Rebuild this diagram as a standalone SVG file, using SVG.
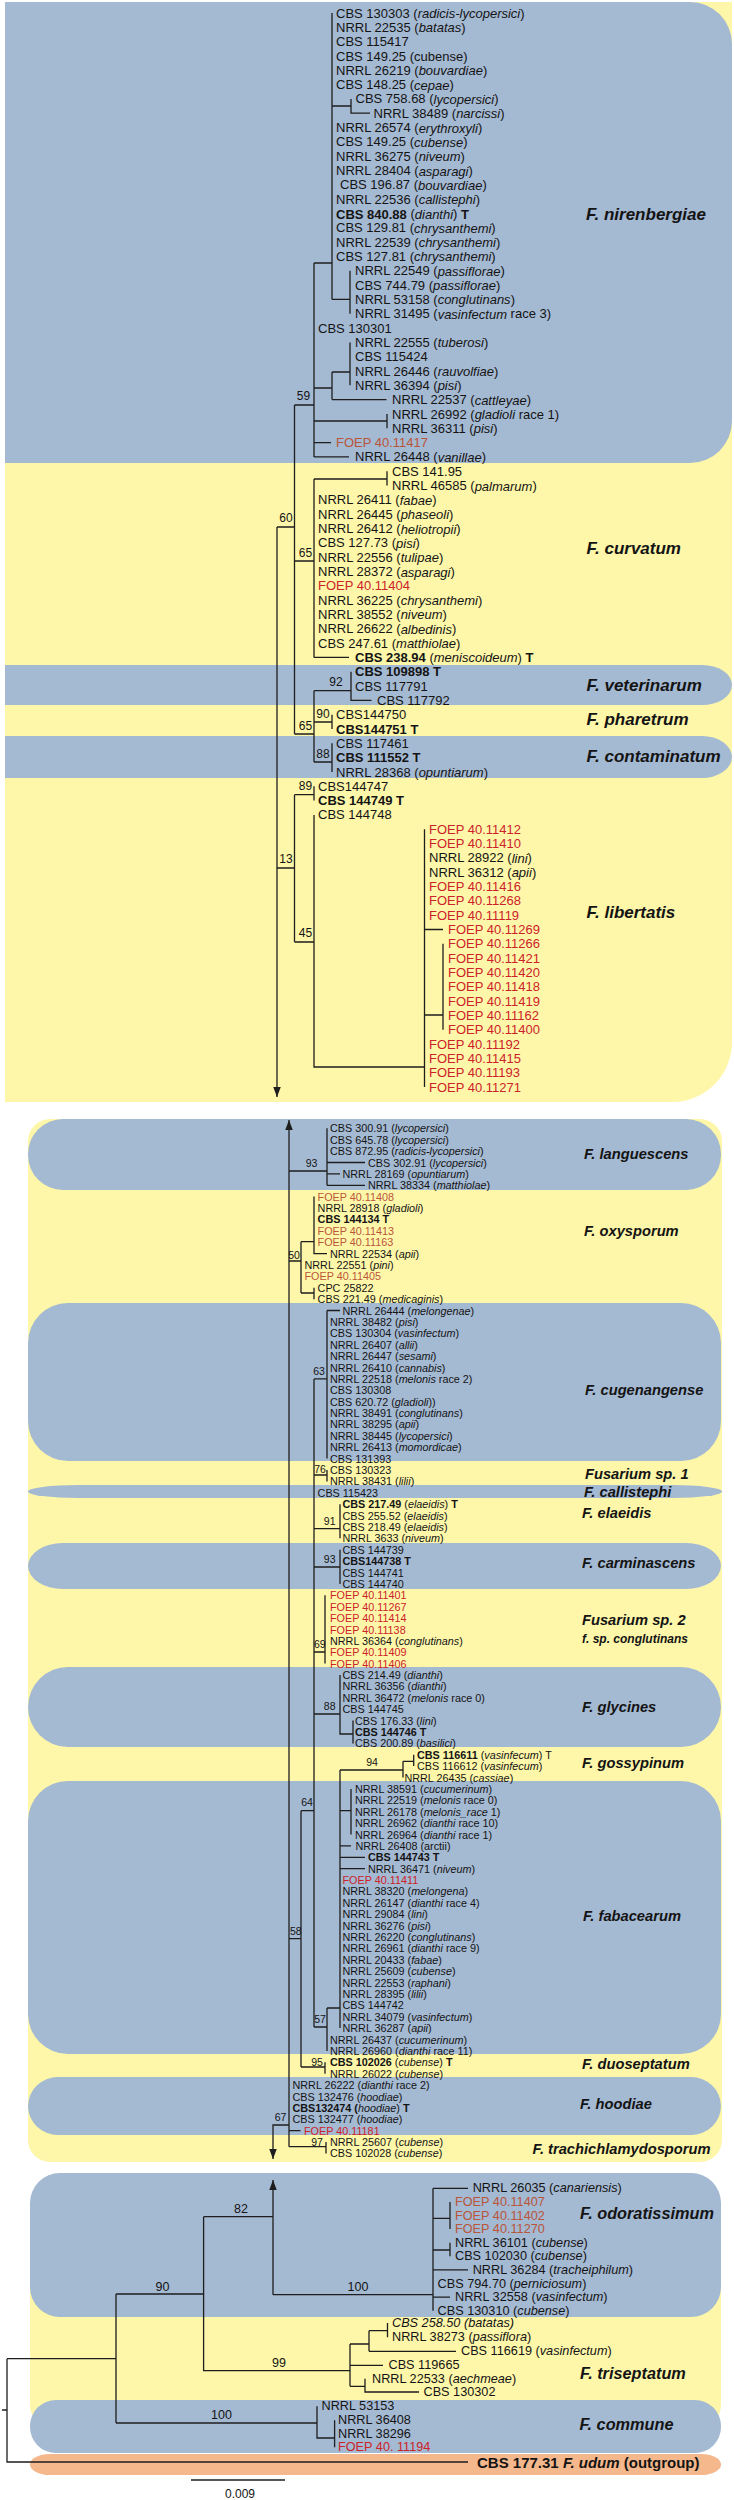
<svg xmlns="http://www.w3.org/2000/svg" width="734" height="2500" viewBox="0 0 734 2500">
<style>
.ln{stroke:#1e1e1e;stroke-width:1.3;fill:none}
.bl{fill:#a4b9d2}
.ye{fill:#fef7a9}
.og{fill:#f5b88c}
text{font-family:"Liberation Sans",Arial,sans-serif;fill:#141414;dominant-baseline:central}
.t text{font-size:13px}
.m text{font-size:10.8px}
.o text{font-size:12.7px}
.i{font-style:italic}
.b{font-weight:bold}
.r{fill:#cc2229}
.rb{fill:#b9553a}
.lab text{font-weight:bold;font-style:italic;font-size:17px}
.lab .ml{font-size:14.7px}
.lab .bt{font-size:16.3px}
.lab .sm{font-size:12px}
.sup text{text-anchor:middle}
.sup .s1{font-size:12px}
.sup .s2{font-size:10.5px}
.sup .s3{font-size:12.5px}
</style>
<defs>
<marker id="arr" markerUnits="userSpaceOnUse" markerWidth="11" markerHeight="8" refX="10" refY="3.75" orient="auto" viewBox="0 0 11 8"><path d="M0,0 L10,3.75 L0,7.5 Z" fill="#1e1e1e"/></marker>
</defs>
<g id="panels">
<path class="ye" d="M5,2 H732 V1042 A60,60 0 0 1 672,1102 H5 Z"/>
<path class="bl" d="M5,2 H690 A42,42 0 0 1 732,44 V421 A42,42 0 0 1 690,463 H5 Z"/>
<path class="bl" d="M5,665 H702 A30,20 0 0 1 702,705 H5 Z"/>
<path class="bl" d="M5,736 H702 A30,21 0 0 1 702,778 H5 Z"/>
<rect class="ye" x="28" y="1119" width="694" height="1043" rx="22"/>
<rect class="bl" x="28" y="1119" width="693" height="71" rx="35"/>
<rect class="bl" x="28" y="1303" width="693" height="158" rx="40"/>
<rect class="bl" x="28" y="1485" width="694" height="13" rx="50" ry="6.5"/>
<rect class="bl" x="28" y="1543" width="693" height="46" rx="35" ry="23"/>
<rect class="bl" x="28" y="1667" width="693" height="80" rx="40"/>
<rect class="bl" x="28" y="1781" width="693" height="273" rx="40"/>
<rect class="bl" x="28" y="2077" width="693" height="58" rx="30" ry="29"/>
<rect class="ye" x="30" y="2185" width="691" height="245" rx="25"/>
<rect class="bl" x="30" y="2173" width="691" height="144" rx="30"/>
<rect class="bl" x="30" y="2400" width="691" height="53" rx="26"/>
<rect class="og" x="30" y="2454" width="691" height="21" rx="20" ry="10.5"/>
</g>
<g id="connectors" class="ln">
<path d="M332,13 V299.4 M332,106 H351 M351,98.9 V113.2 H370 M332,299.4 H350 M350,270.8 V313.7 M314,263 H332 M314,263 V456.9"/>
<path d="M314,388 H332 M332,372 V399.6 M332,372 H350 M350,342.4 V385.3 M332,399.6 H386.5 M314,421 H387 M387,414 V428.3 M314,442.6 H331 M314,456.9 H349"/>
<path d="M294.5,405 H314 M294.5,405 V734 M277,527 H294.5"/>
<path d="M294.5,561 H314 M314,479 V657.4 M314,479 H387 M387,471.2 V485.6 M314,657.4 H349"/>
<path d="M294.5,734 H314 M314,690.7 V762 M314,690.7 H351 M351,671.7 V700.4 H371.5 M314,722 H332 M332,714.7 V729 M314,762 H332 M332,743.3 V772"/>
<path d="M277,527 V1097" marker-end="url(#arr)"/>
<path d="M277,868 H294.5 M294.5,794.7 V942 M294.5,794.7 H314 M314,786.3 V800.6 M294.5,942 H314 M314,814.9 V1067 H424.5"/>
<path d="M424.5,829.2 V1087 M424.5,929.5 H443 M424.5,1015 H443 M443,943.8 V1029.7"/>
<path d="M289,2146.7 V1120" marker-end="url(#arr)"/>
<path d="M289,1171 H327 M327,1128.3 V1185.3 M327,1162.5 H365 M327,1173.9 H340 M327,1185.3 H365"/>
<path d="M289,1261 H301 M301,1241.7 V1293 M301,1241.7 H314 M314,1196.6 V1253.6 H327 M301,1293 H314 M314,1287.8 V1299.2"/>
<path d="M289,1938.7 H301 M301,1810.7 V2067 M301,1810.7 H314 M301,2067 H325 M325,2062.3 V2073.7"/>
<path d="M314,1378.9 V2027 M314,1378.9 H327 M327,1310.5 V1458.6 M327,1310.5 H340 M314,1475 H327 M327,1470 V1481.4 M314,1528.7 H340 M340,1504.2 V1538.3 M314,1567 H340 M340,1549.7 V1583.9 M314,1652 H325 M325,1595.3 V1663.6"/>
<path d="M314,1714 H340 M340,1675 V1734 H353 M353,1720.6 V1743.4"/>
<path d="M314,2027 H327 M327,2008 V2050.9 M327,2008 H340"/>
<path d="M340,1770 V2028.1 M340,1770 H403 M403,1761.3 V1777.5 M403,1761.3 H413.7 M413.7,1754.8 V1766.1 M340,1810.7 H351 M351,1788.9 V1834.5 M340,1845.9 H351 M340,1857.3 H365 M340,1868.7 H365"/>
<path d="M289,2130.6 H300.5 M289,2146.7 H326 M326,2142 V2153.4"/>
<path d="M289,2125 H273 V2159" marker-end="url(#arr)"/>
<path d="M273,2294.7 V2180" marker-end="url(#arr)"/>
<path d="M203.6,2216.7 H273 M273,2294.7 H433 M433,2188.3 V2310.7 M433,2188.3 H468 M433,2218.3 H450 M450,2201.9 V2229.1 M433,2250 H450 M450,2242.7 V2256.3 M433,2269.9 H468 M433,2297.1 H450"/>
<path d="M116,2294 H203.6 M203.6,2216.7 V2370.7 H350 M350,2344 V2386.3 M350,2344 H369 M369,2330.7 V2351.3 M369,2330.7 H387.5 M387.5,2323 V2337.3 M369,2351.3 H456 M350,2365.3 H383 M350,2386.3 H365 M365,2378.7 V2392 H419"/>
<path d="M116,2423 H317 M317,2406.3 V2438 H334.6 M334.6,2420.3 V2447.3"/>
<path d="M116,2294 V2423 M7,2358.7 H116 M7,2358.7 V2462 H468 M2,2410 H7"/>
<path d="M191,2480 H285"/>
</g>
<g id="nirenbergiae" class="t">
<text x="336" y="13">CBS 130303 (<tspan class="i">radicis-lycopersici</tspan>)</text>
<text x="336" y="27.3">NRRL 22535 (<tspan class="i">batatas</tspan>)</text>
<text x="336" y="41.6">CBS 115417</text>
<text x="336" y="56">CBS 149.25 (cubense)</text>
<text x="336" y="70.3">NRRL 26219 (<tspan class="i">bouvardiae</tspan>)</text>
<text x="336" y="84.6">CBS 148.25 (<tspan class="i">cepae</tspan>)</text>
<text x="355.5" y="98.9">CBS 758.68 (<tspan class="i">lycopersici</tspan>)</text>
<text x="373.5" y="113.2">NRRL 38489 (<tspan class="i">narcissi</tspan>)</text>
<text x="336" y="127.6">NRRL 26574 (<tspan class="i">erythroxyli</tspan>)</text>
<text x="336" y="141.9">CBS 149.25 (<tspan class="i">cubense</tspan>)</text>
<text x="336" y="156.2">NRRL 36275 (<tspan class="i">niveum</tspan>)</text>
<text x="336" y="170.5">NRRL 28404 (<tspan class="i">asparagi</tspan>)</text>
<text x="340" y="184.8">CBS 196.87 (<tspan class="i">bouvardiae</tspan>)</text>
<text x="336" y="199.2">NRRL 22536 (<tspan class="i">callistephi</tspan>)</text>
<text x="336" y="213.5"><tspan class="b">CBS 840.88</tspan> (<tspan class="i">dianthi</tspan>) <tspan class="b">T</tspan></text>
<text x="336" y="227.8">CBS 129.81 (<tspan class="i">chrysanthemi</tspan>)</text>
<text x="336" y="242.1">NRRL 22539 (<tspan class="i">chrysanthemi</tspan>)</text>
<text x="336" y="256.4">CBS 127.81 (<tspan class="i">chrysanthemi</tspan>)</text>
<text x="355" y="270.8">NRRL 22549 (<tspan class="i">passiflorae</tspan>)</text>
<text x="355" y="285.1">CBS 744.79 (<tspan class="i">passiflorae</tspan>)</text>
<text x="355" y="299.4">NRRL 53158 (<tspan class="i">conglutinans</tspan>)</text>
<text x="355" y="313.7">NRRL 31495 (<tspan class="i">vasinfectum</tspan> race 3)</text>
<text x="318" y="328">CBS 130301</text>
<text x="355" y="342.4">NRRL 22555 (<tspan class="i">tuberosi</tspan>)</text>
<text x="355" y="356.7">CBS 115424</text>
<text x="355" y="371">NRRL 26446 (<tspan class="i">rauvolfiae</tspan>)</text>
<text x="355" y="385.3">NRRL 36394 (<tspan class="i">pisi</tspan>)</text>
<text x="392" y="399.6">NRRL 22537 (<tspan class="i">cattleyae</tspan>)</text>
<text x="392" y="414">NRRL 26992 (<tspan class="i">gladioli</tspan> race 1)</text>
<text x="392" y="428.3">NRRL 36311 (<tspan class="i">pisi</tspan>)</text>
<text x="336" y="442.6" class="rb">FOEP 40.11417</text>
<text x="355" y="456.9">NRRL 26448 (<tspan class="i">vanillae</tspan>)</text>
</g>
<g id="curvatum" class="t">
<text x="392" y="471.2">CBS 141.95</text>
<text x="392" y="485.6">NRRL 46585 (<tspan class="i">palmarum</tspan>)</text>
<text x="318" y="499.9">NRRL 26411 (<tspan class="i">fabae</tspan>)</text>
<text x="318" y="514.2">NRRL 26445 (<tspan class="i">phaseoli</tspan>)</text>
<text x="318" y="528.5">NRRL 26412 (<tspan class="i">heliotropii</tspan>)</text>
<text x="318" y="542.8">CBS 127.73 (<tspan class="i">pisi</tspan>)</text>
<text x="318" y="557.2">NRRL 22556 (<tspan class="i">tulipae</tspan>)</text>
<text x="318" y="571.5">NRRL 28372 (<tspan class="i">asparagi</tspan>)</text>
<text x="318" y="585.8" class="r">FOEP 40.11404</text>
<text x="318" y="600.1">NRRL 36225 (<tspan class="i">chrysanthemi</tspan>)</text>
<text x="318" y="614.4">NRRL 38552 (<tspan class="i">niveum</tspan>)</text>
<text x="318" y="628.8">NRRL 26622 (<tspan class="i">albedinis</tspan>)</text>
<text x="318" y="643.1">CBS 247.61 (<tspan class="i">matthiolae</tspan>)</text>
<text x="355" y="657.4"><tspan class="b">CBS 238.94</tspan> (<tspan class="i">meniscoideum</tspan>) <tspan class="b">T</tspan></text>
</g>
<g id="veterinarum" class="t">
<text x="355" y="671.7" class="b">CBS 109898 T</text>
<text x="355" y="686">CBS 117791</text>
<text x="377" y="700.4">CBS 117792</text>
</g>
<g id="pharetrum" class="t">
<text x="336" y="714.7">CBS144750</text>
<text x="336" y="729" class="b">CBS144751 T</text>
</g>
<g id="contaminatum" class="t">
<text x="336" y="743.3">CBS 117461</text>
<text x="336" y="757.6" class="b">CBS 111552 T</text>
<text x="336" y="772">NRRL 28368 (<tspan class="i">opuntiarum</tspan>)</text>
</g>
<g id="libertatis" class="t">
<text x="318" y="786.3">CBS144747</text>
<text x="318" y="800.6" class="b">CBS 144749 T</text>
<text x="318" y="814.9">CBS 144748</text>
<text x="429" y="829.2" class="r">FOEP 40.11412</text>
<text x="429" y="843.6" class="r">FOEP 40.11410</text>
<text x="429" y="857.9">NRRL 28922 (<tspan class="i">lini</tspan>)</text>
<text x="429" y="872.2">NRRL 36312 (<tspan class="i">apii</tspan>)</text>
<text x="429" y="886.5" class="r">FOEP 40.11416</text>
<text x="429" y="900.8" class="r">FOEP 40.11268</text>
<text x="429" y="915.2" class="r">FOEP 40.11119</text>
<text x="448" y="929.5" class="r">FOEP 40.11269</text>
<text x="448" y="943.8" class="r">FOEP 40.11266</text>
<text x="448" y="958.1" class="r">FOEP 40.11421</text>
<text x="448" y="972.4" class="r">FOEP 40.11420</text>
<text x="448" y="986.8" class="r">FOEP 40.11418</text>
<text x="448" y="1001.1" class="r">FOEP 40.11419</text>
<text x="448" y="1015.4" class="r">FOEP 40.11162</text>
<text x="448" y="1029.7" class="r">FOEP 40.11400</text>
<text x="429" y="1044" class="r">FOEP 40.11192</text>
<text x="429" y="1058.4" class="r">FOEP 40.11415</text>
<text x="429" y="1072.7" class="r">FOEP 40.11193</text>
<text x="429" y="1087" class="r">FOEP 40.11271</text>
</g>
<g id="languescens" class="m">
<text x="330" y="1128.3">CBS 300.91 (<tspan class="i">lycopersici</tspan>)</text>
<text x="330" y="1139.7">CBS 645.78 (<tspan class="i">lycopersici</tspan>)</text>
<text x="330" y="1151.1">CBS 872.95 (<tspan class="i">radicis-lycopersici</tspan>)</text>
<text x="368" y="1162.5">CBS 302.91 (<tspan class="i">lycopersici</tspan>)</text>
<text x="342.5" y="1173.9">NRRL 28169 (<tspan class="i">opuntiarum</tspan>)</text>
<text x="368" y="1185.3">NRRL 38334 (<tspan class="i">matthiolae</tspan>)</text>
</g>
<g id="oxysporum" class="m">
<text x="317.6" y="1196.6" class="rb">FOEP 40.11408</text>
<text x="317.6" y="1208">NRRL 28918 (<tspan class="i">gladioli</tspan>)</text>
<text x="317.6" y="1219.4" class="b">CBS 144134 T</text>
<text x="317.6" y="1230.8" class="rb">FOEP 40.11413</text>
<text x="317.6" y="1242.2" class="rb">FOEP 40.11163</text>
<text x="330" y="1253.6">NRRL 22534 (<tspan class="i">apii</tspan>)</text>
<text x="304.5" y="1265">NRRL 22551 (<tspan class="i">pini</tspan>)</text>
<text x="304.5" y="1276.4" class="rb">FOEP 40.11405</text>
<text x="317.6" y="1287.8">CPC 25822</text>
<text x="317.6" y="1299.2">CBS 221.49 (<tspan class="i">medicaginis</tspan>)</text>
</g>
<g id="cugenangense" class="m">
<text x="342.5" y="1310.5">NRRL 26444 (<tspan class="i">melongenae</tspan>)</text>
<text x="330" y="1321.9">NRRL 38482 (<tspan class="i">pisi</tspan>)</text>
<text x="330" y="1333.3">CBS 130304 (<tspan class="i">vasinfectum</tspan>)</text>
<text x="330" y="1344.7">NRRL 26407 (<tspan class="i">allii</tspan>)</text>
<text x="330" y="1356.1">NRRL 26447 (<tspan class="i">sesami</tspan>)</text>
<text x="330" y="1367.5">NRRL 26410 (<tspan class="i">cannabis</tspan>)</text>
<text x="330" y="1378.9">NRRL 22518 (<tspan class="i">melonis</tspan> race 2)</text>
<text x="330" y="1390.3">CBS 130308</text>
<text x="330" y="1401.7">CBS 620.72 (<tspan class="i">gladioli</tspan>))</text>
<text x="330" y="1413.1">NRRL 38491 (<tspan class="i">conglutinans</tspan>)</text>
<text x="330" y="1424.4">NRRL 38295 (<tspan class="i">apii</tspan>)</text>
<text x="330" y="1435.8">NRRL 38445 (<tspan class="i">lycopersici</tspan>)</text>
<text x="330" y="1447.2">NRRL 26413 (<tspan class="i">momordicae</tspan>)</text>
<text x="330" y="1458.6">CBS 131393</text>
</g>
<g id="sp1" class="m">
<text x="330" y="1470">CBS 130323</text>
<text x="330" y="1481.4">NRRL 38431 (<tspan class="i">lilii</tspan>)</text>
</g>
<g id="callistephi" class="m">
<text x="317.6" y="1492.8">CBS 115423</text>
</g>
<g id="elaeidis" class="m">
<text x="342.5" y="1504.2"><tspan class="b">CBS 217.49</tspan> (<tspan class="i">elaeidis</tspan>) <tspan class="b">T</tspan></text>
<text x="342.5" y="1515.6">CBS 255.52 (<tspan class="i">elaeidis</tspan>)</text>
<text x="342.5" y="1527">CBS 218.49 (<tspan class="i">elaeidis</tspan>)</text>
<text x="342.5" y="1538.3">NRRL 3633 (<tspan class="i">niveum</tspan>)</text>
</g>
<g id="carminascens" class="m">
<text x="342.5" y="1549.7">CBS 144739</text>
<text x="342.5" y="1561.1" class="b">CBS144738 T</text>
<text x="342.5" y="1572.5">CBS 144741</text>
<text x="342.5" y="1583.9">CBS 144740</text>
</g>
<g id="sp2" class="m">
<text x="330" y="1595.3" class="r">FOEP 40.11401</text>
<text x="330" y="1606.7" class="r">FOEP 40.11267</text>
<text x="330" y="1618.1" class="r">FOEP 40.11414</text>
<text x="330" y="1629.5" class="r">FOEP 40.11138</text>
<text x="330" y="1640.9">NRRL 36364 (<tspan class="i">conglutinans</tspan>)</text>
<text x="330" y="1652.2" class="r">FOEP 40.11409</text>
<text x="330" y="1663.6" class="r">FOEP 40.11406</text>
</g>
<g id="glycines" class="m">
<text x="342.5" y="1675">CBS 214.49 (<tspan class="i">dianthi</tspan>)</text>
<text x="342.5" y="1686.4">NRRL 36356 (<tspan class="i">dianthi</tspan>)</text>
<text x="342.5" y="1697.8">NRRL 36472 (<tspan class="i">melonis</tspan> race 0)</text>
<text x="342.5" y="1709.2">CBS 144745</text>
<text x="355" y="1720.6">CBS 176.33 (<tspan class="i">lini</tspan>)</text>
<text x="355" y="1732" class="b">CBS 144746 T</text>
<text x="355" y="1743.4">CBS 200.89 (<tspan class="i">basilici</tspan>)</text>
</g>
<g id="gossypinum" class="m">
<text x="417" y="1754.8"><tspan class="b">CBS 116611</tspan> (<tspan class="i">vasinfecum</tspan>) T</text>
<text x="417" y="1766.1">CBS 116612 (<tspan class="i">vasinfecum</tspan>)</text>
<text x="404.4" y="1777.5">NRRL 26435 (<tspan class="i">cassiae</tspan>)</text>
</g>
<g id="fabacearum" class="m">
<text x="355" y="1788.9">NRRL 38591 (<tspan class="i">cucumerinum</tspan>)</text>
<text x="355" y="1800.3">NRRL 22519 (<tspan class="i">melonis</tspan> race 0)</text>
<text x="355" y="1811.7">NRRL 26178 (<tspan class="i">melonis_race</tspan> 1)</text>
<text x="355" y="1823.1">NRRL 26962 (<tspan class="i">dianthi</tspan> race 10)</text>
<text x="355" y="1834.5">NRRL 26964 (<tspan class="i">dianthi</tspan> race 1)</text>
<text x="355.5" y="1845.9">NRRL 26408 (arctii)</text>
<text x="368" y="1857.3" class="b">CBS 144743 T</text>
<text x="368" y="1868.7">NRRL 36471 (<tspan class="i">niveum</tspan>)</text>
<text x="342.5" y="1880" class="r">FOEP 40.11411</text>
<text x="342.5" y="1891.4">NRRL 38320 (<tspan class="i">melongena</tspan>)</text>
<text x="342.5" y="1902.8">NRRL 26147 (<tspan class="i">dianthi</tspan> race 4)</text>
<text x="342.5" y="1914.2">NRRL 29084 (<tspan class="i">lini</tspan>)</text>
<text x="342.5" y="1925.6">NRRL 36276 (<tspan class="i">pisi</tspan>)</text>
<text x="342.5" y="1937">NRRL 26220 (<tspan class="i">conglutinans</tspan>)</text>
<text x="342.5" y="1948.4">NRRL 26961 (<tspan class="i">dianthi</tspan> race 9)</text>
<text x="342.5" y="1959.8">NRRL 20433 (<tspan class="i">fabae</tspan>)</text>
<text x="342.5" y="1971.2">NRRL 25609 (<tspan class="i">cubense</tspan>)</text>
<text x="342.5" y="1982.6">NRRL 22553 (<tspan class="i">raphani</tspan>)</text>
<text x="342.5" y="1993.9">NRRL 28395 (<tspan class="i">lilii</tspan>)</text>
<text x="342.5" y="2005.3">CBS 144742</text>
<text x="342.5" y="2016.7">NRRL 34079 (<tspan class="i">vasinfectum</tspan>)</text>
<text x="342.5" y="2028.1">NRRL 36287 (<tspan class="i">apii</tspan>)</text>
<text x="330" y="2039.5">NRRL 26437 (<tspan class="i">cucumerinum</tspan>)</text>
<text x="330" y="2050.9">NRRL 26960 (<tspan class="i">dianthi</tspan> race 11)</text>
</g>
<g id="duoseptatum" class="m">
<text x="330" y="2062.3"><tspan class="b">CBS 102026</tspan> (<tspan class="i">cubense</tspan>) <tspan class="b">T</tspan></text>
<text x="330" y="2073.7">NRRL 26022 (<tspan class="i">cubense</tspan>)</text>
</g>
<g id="hoodiae" class="m">
<text x="292.5" y="2085.1">NRRL 26222 (<tspan class="i">dianthi</tspan> race 2)</text>
<text x="292.5" y="2096.5">CBS 132476 (<tspan class="i">hoodiae</tspan>)</text>
<text x="292.5" y="2107.8"><tspan class="b">CBS132474 (</tspan><tspan class="i">hoodiae</tspan>) <tspan class="b">T</tspan></text>
<text x="292.5" y="2119.2">CBS 132477 (<tspan class="i">hoodiae</tspan>)</text>
<text x="304" y="2130.6" class="r">FOEP 40.11181</text>
</g>
<g id="trachichlamydosporum" class="m">
<text x="330" y="2142">NRRL 25607 (<tspan class="i">cubense</tspan>)</text>
<text x="330" y="2153.4">CBS 102028 (<tspan class="i">cubense</tspan>)</text>
</g>
<g id="odoratissimum" class="o">
<text x="472.7" y="2188.3">NRRL 26035 (<tspan class="i">canariensis</tspan>)</text>
<text x="455" y="2201.9" class="rb">FOEP 40.11407</text>
<text x="455" y="2215.5" class="rb">FOEP 40.11402</text>
<text x="455" y="2229.1" class="rb">FOEP 40.11270</text>
<text x="455" y="2242.7">NRRL 36101 (<tspan class="i">cubense</tspan>)</text>
<text x="455" y="2256.3">CBS 102030 (<tspan class="i">cubense</tspan>)</text>
<text x="472.7" y="2269.9">NRRL 36284 (<tspan class="i">tracheiphilum</tspan>)</text>
<text x="437.6" y="2283.5">CBS 794.70 (<tspan class="i">perniciosum</tspan>)</text>
<text x="455" y="2297.1">NRRL 32558 (<tspan class="i">vasinfectum</tspan>)</text>
<text x="437.6" y="2310.7">CBS 130310 (<tspan class="i">cubense</tspan>)</text>
</g>
<g id="triseptatum" class="o">
<text x="392" y="2323" class="i">CBS 258.50 (batatas)</text>
<text x="392" y="2337.3">NRRL 38273 (<tspan class="i">passiflora</tspan>)</text>
<text x="461" y="2351.3">CBS 116619 (<tspan class="i">vasinfectum</tspan>)</text>
<text x="388.5" y="2365.3">CBS 119665</text>
<text x="372" y="2378.7">NRRL 22533 (<tspan class="i">aechmeae</tspan>)</text>
<text x="423.5" y="2392">CBS 130302</text>
</g>
<g id="commune" class="o">
<text x="321.5" y="2406.3">NRRL 53153</text>
<text x="338" y="2420.3">NRRL 36408</text>
<text x="338" y="2433.7">NRRL 38296</text>
<text x="338" y="2447.3" class="r">FOEP 40. 11194</text>
</g>
<g id="outgroup">
<text x="477" y="2462" class="b" style="font-size:15px">CBS 177.31 <tspan class="i">F. udum</tspan> (outgroup)</text>
</g>
<g id="scale">
<text x="240" y="2494" style="font-size:12px;text-anchor:middle">0.009</text>
</g>
<g id="supports" class="sup">
<text class="s1" x="303.5" y="396.3">59</text>
<text class="s1" x="286" y="517.7">60</text>
<text class="s1" x="305.5" y="552.7">65</text>
<text class="s1" x="305.5" y="725.7">65</text>
<text class="s1" x="336" y="682.3">92</text>
<text class="s1" x="323" y="714">90</text>
<text class="s1" x="323" y="754">88</text>
<text class="s1" x="305.5" y="785.7">89</text>
<text class="s1" x="286" y="858.7">13</text>
<text class="s1" x="305.5" y="932.7">45</text>
<text class="s2" x="311.5" y="1163">93</text>
<text class="s2" x="294" y="1254.5">50</text>
<text class="s2" x="319" y="1371">63</text>
<text class="s2" x="320" y="1468.5">76</text>
<text class="s2" x="329.7" y="1521">91</text>
<text class="s2" x="329.7" y="1559">93</text>
<text class="s2" x="319.8" y="1644">69</text>
<text class="s2" x="329.7" y="1706">88</text>
<text class="s2" x="372" y="1761.7">94</text>
<text class="s2" x="307" y="1802.3">64</text>
<text class="s2" x="295.8" y="1931">58</text>
<text class="s2" x="320" y="2018.7">57</text>
<text class="s2" x="317" y="2062">95</text>
<text class="s2" x="280.5" y="2116.7">67</text>
<text class="s2" x="317" y="2141.7">97</text>
<text class="s3" x="241" y="2209">82</text>
<text class="s3" x="358" y="2286.7">100</text>
<text class="s3" x="162.5" y="2287">90</text>
<text class="s3" x="279" y="2363">99</text>
<text class="s3" x="221.5" y="2414.7">100</text>
</g>
<g id="clade-labels" class="lab">
<text x="586" y="214.7">F. nirenbergiae</text>
<text x="586.5" y="548.7">F. curvatum</text>
<text x="586.5" y="685">F. veterinarum</text>
<text x="586.5" y="719.7">F. pharetrum</text>
<text x="586.5" y="756.3">F. contaminatum</text>
<text x="586.5" y="912.7">F. libertatis</text>
<text class="ml" x="584" y="1154.3">F. languescens</text>
<text class="ml" x="584" y="1231">F. oxysporum</text>
<text class="ml" x="585" y="1389.7">F. cugenangense</text>
<text class="ml" x="585" y="1474.3">Fusarium sp. 1</text>
<text class="ml" x="584" y="1492">F. callistephi</text>
<text class="ml" x="582" y="1513.3">F. elaeidis</text>
<text class="ml" x="582" y="1563.3">F. carminascens</text>
<text class="ml" x="582" y="1620.3">Fusarium sp. 2</text>
<text class="sm" x="582" y="1638.7">f. sp. conglutinans</text>
<text class="ml" x="582" y="1706.7">F. glycines</text>
<text class="ml" x="582" y="1763.3">F. gossypinum</text>
<text class="ml" x="583" y="1916">F. fabacearum</text>
<text class="ml" x="582" y="2063.7">F. duoseptatum</text>
<text class="ml" x="580" y="2104">F. hoodiae</text>
<text class="ml" x="532.6" y="2149">F. trachichlamydosporum</text>
<text class="bt" x="580" y="2213.3">F. odoratissimum</text>
<text class="bt" x="580" y="2373">F. triseptatum</text>
<text class="bt" x="579.4" y="2424">F. commune</text>
</g>
</svg>
